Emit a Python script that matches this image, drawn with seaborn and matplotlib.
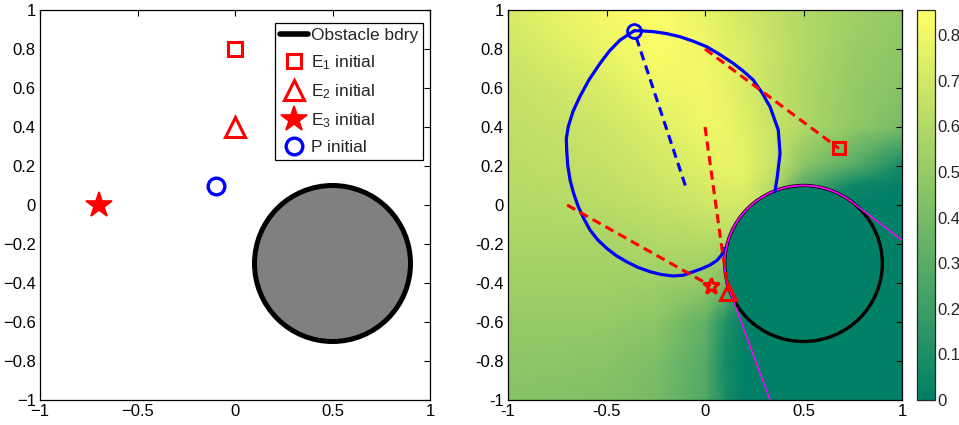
import numpy as np
import matplotlib
matplotlib.use("Agg")
import matplotlib.pyplot as plt
from matplotlib.patches import Circle, Arc
import seaborn as sns

# --- data ---
obst_center = (0.5, -0.3)
obst_radius = 0.4

# initial positions (left panel)
e1_init = (0.0, 0.8)
e2_init = (0.0, 0.4)
e3_init = (-0.7, 0.0)
p_init = (-0.1, 0.1)

# final positions (right panel)
e1_final = (0.68, 0.29)
e2_final = (0.118, -0.445)
e3_final = (0.03, -0.415)
p_final = (-0.36, 0.893)

# P trajectory loop (solid blue)
loop_x = [0.355, 0.367, 0.381, 0.372, 0.330, 0.290, 0.245, 0.195, 0.144, 0.075, 0.008,
          -0.060, -0.127, -0.200, -0.262, -0.320, -0.359, -0.431, -0.485, -0.533, -0.590,
          -0.635, -0.670, -0.694, -0.704, -0.702, -0.697, -0.685, -0.667, -0.643, -0.615,
          -0.584, -0.545, -0.499, -0.450, -0.398, -0.340, -0.279, -0.220, -0.161, -0.110,
          -0.059, -0.015, 0.025, 0.060, 0.085, 0.096]
loop_y = [0.068, 0.145, 0.265, 0.385, 0.504, 0.575, 0.641, 0.686, 0.726, 0.772, 0.812,
          0.840, 0.863, 0.880, 0.889, 0.893, 0.894, 0.846, 0.790, 0.726, 0.640,
          0.556, 0.480, 0.402, 0.340, 0.282, 0.205, 0.128, 0.060, -0.009, -0.070,
          -0.128, -0.178, -0.222, -0.260, -0.291, -0.320, -0.342, -0.357, -0.364, -0.360,
          -0.342, -0.326, -0.308, -0.285, -0.256, -0.222]

# magenta tangent lines and wrapped arc (degrees)
tan1_x = [0.739, 1.0]
tan1_y = [0.020, -0.180]
tan2_x = [0.124, 0.330]
tan2_y = [-0.437, -1.0]
arc_from, arc_to = 53, 200

# background field
field_x = [-1, -0.75, -0.5, -0.25, 0, 0.1, 0.2, 0.35, 0.5, 0.75, 1]
field_y = [1, 0.8, 0.6, 0.4, 0.2, 0.1, 0, -0.2, -0.4, -0.6, -0.8, -1]
field_v = [
    [0.72, 0.78, 0.82, 0.85, 0.78, 0.74, 0.70, 0.65, 0.60, 0.54, 0.49],
    [0.69, 0.74, 0.79, 0.84, 0.80, 0.76, 0.73, 0.66, 0.60, 0.52, 0.47],
    [0.66, 0.69, 0.73, 0.80, 0.81, 0.78, 0.73, 0.65, 0.59, 0.50, 0.45],
    [0.64, 0.66, 0.69, 0.74, 0.80, 0.79, 0.75, 0.67, 0.59, 0.49, 0.40],
    [0.62, 0.64, 0.66, 0.70, 0.75, 0.78, 0.77, 0.67, 0.46, 0.29, 0.07],
    [0.61, 0.62, 0.64, 0.68, 0.72, 0.74, 0.74, 0.60, 0.30, 0.05, 0.00],
    [0.60, 0.61, 0.62, 0.65, 0.69, 0.71, 0.70, 0.65, 0.00, 0.00, 0.00],
    [0.57, 0.57, 0.57, 0.59, 0.60, 0.59, 0.58, 0.50, 0.00, 0.00, 0.00],
    [0.54, 0.54, 0.54, 0.53, 0.50, 0.42, 0.00, 0.00, 0.00, 0.00, 0.00],
    [0.50, 0.50, 0.50, 0.47, 0.33, 0.13, 0.00, 0.00, 0.00, 0.00, 0.00],
    [0.48, 0.47, 0.46, 0.42, 0.29, 0.08, 0.00, 0.00, 0.00, 0.00, 0.00],
    [0.45, 0.44, 0.43, 0.40, 0.27, 0.10, 0.00, 0.00, 0.00, 0.00, 0.00],
]
vmax = 0.855
cbar_ticks = [0, 0.1, 0.2, 0.3, 0.4, 0.5, 0.6, 0.7, 0.8]

ticks_x = [-1, -0.5, 0, 0.5, 1]
ticks_y = [-1, -0.8, -0.6, -0.4, -0.2, 0, 0.2, 0.4, 0.6, 0.8, 1]

# --- style ---
sns.set_theme(style="white")
plt.rcParams['font.family'] = ['Liberation Sans', 'DejaVu Sans']
plt.rcParams['mathtext.default'] = 'regular'
plt.rcParams['font.size'] = 12

RED = '#ff0000'
BLUE = '#0000ff'

fig = plt.figure(figsize=(9.59, 4.25), dpi=100)
W, H = 959, 425
ax1 = fig.add_axes([40 / W, 25 / H, 390 / W, 390 / H])
ax2 = fig.add_axes([508 / W, 25 / H, 394 / W, 390 / H])
cax = fig.add_axes([917 / W, 25 / H, 18 / W, 390 / H])


def fmt(v, minus):
    s = ('%g' % v)
    return s.replace('-', minus)


for ax, minus in ((ax1, '\u2212'), (ax2, '-')):
    ax.set_xlim(-1, 1)
    ax.set_ylim(-1, 1)
    ax.set_xticks(ticks_x)
    ax.set_yticks(ticks_y)
    ax.set_xticklabels([fmt(v, minus) for v in ticks_x])
    ax.set_yticklabels([fmt(v, minus) for v in ticks_y])
    ax.tick_params(direction='in', length=4, width=0.8, top=True, right=True,
                   labelsize=12, colors='black', pad=3)
    for s in ax.spines.values():
        s.set_color('black')
        s.set_linewidth(0.9)

# ---- left panel ----
ax1.add_patch(Circle(obst_center, obst_radius, facecolor='#808080',
                     edgecolor='black', linewidth=3.6, zorder=2))
ax1.plot([], [], color='black', linewidth=4, label='Obstacle bdry')
ax1.plot(*e1_init, 's', ms=10, mfc='none', mec=RED, mew=2.2, label='E$_1$ initial')
ax1.plot(*e2_init, '^', ms=14, mfc='none', mec=RED, mew=2.2, label='E$_2$ initial')
ax1.plot(*e3_init, '*', ms=19, mfc=RED, mec=RED, mew=1.2, label='E$_3$ initial')
ax1.plot(*p_init, 'o', ms=12, mfc='none', mec=BLUE, mew=2.4, label='P initial')
leg = ax1.legend(loc='upper left', bbox_to_anchor=(0.603, 0.967), fancybox=False,
                 framealpha=1, edgecolor='black', fontsize=12.5, handlelength=1.6,
                 handletextpad=0.15, borderpad=0.3, labelspacing=0.58,
                 borderaxespad=0, markerscale=1.0)
leg.get_frame().set_linewidth(0.9)

# ---- right panel ----
X, Y = np.meshgrid(field_x, field_y)
mesh = ax2.pcolormesh(X, Y, np.array(field_v), shading='gouraud', cmap='summer',
                      vmin=0, vmax=vmax, zorder=0)
teal = plt.get_cmap('summer')(0.0)
ax2.add_patch(Circle(obst_center, obst_radius, facecolor=teal,
                     edgecolor='black', linewidth=2.4, zorder=2))
ax2.add_patch(Arc(obst_center, 2 * obst_radius, 2 * obst_radius, theta1=arc_from,
                  theta2=arc_to, color='#ff00ff', linewidth=1.3, zorder=3))
ax2.plot(tan1_x, tan1_y, color='#ff00ff', linewidth=1.1, zorder=3)
ax2.plot(tan2_x, tan2_y, color='#ff00ff', linewidth=1.1, zorder=3)

sns.lineplot(x=loop_x, y=loop_y, sort=False, estimator=None, color=BLUE,
             linewidth=2.3, ax=ax2, zorder=4)

dash = dict(linestyle=(0, (3, 1.8)), linewidth=2.2, zorder=5)
ax2.plot([p_init[0], p_final[0]], [p_init[1], p_final[1]], color=BLUE, **dash)
ax2.plot([e1_init[0], e1_final[0]], [e1_init[1], e1_final[1]], color=RED, **dash)
ax2.plot([e2_init[0], 0.082, e2_final[0]], [e2_init[1], -0.195, e2_final[1]], color=RED, **dash)
ax2.plot([e3_init[0], e3_final[0]], [e3_init[1], e3_final[1]], color=RED, **dash)

ax2.plot(*p_final, 'o', ms=10, mfc='none', mec=BLUE, mew=2.0, zorder=6)
ax2.plot(*e1_final, 's', ms=9, mfc='none', mec=RED, mew=2.2, zorder=6)
ax2.plot(*e2_final, '^', ms=12, mfc='none', mec=RED, mew=2.2, zorder=6)
ax2.plot(*e3_final, '*', ms=12, mfc='none', mec=RED, mew=2.2, zorder=6)
ax2.set_xlim(-1, 1)
ax2.set_ylim(-1, 1)

cb = fig.colorbar(mesh, cax=cax, ticks=cbar_ticks)
cb.ax.set_yticklabels(['%g' % t for t in cbar_ticks])
cb.ax.tick_params(direction='in', length=4, width=0.8, left=True, right=True,
                  labelsize=12, pad=2)
cb.outline.set_linewidth(0.9)

fig.savefig('out.png', dpi=100)
